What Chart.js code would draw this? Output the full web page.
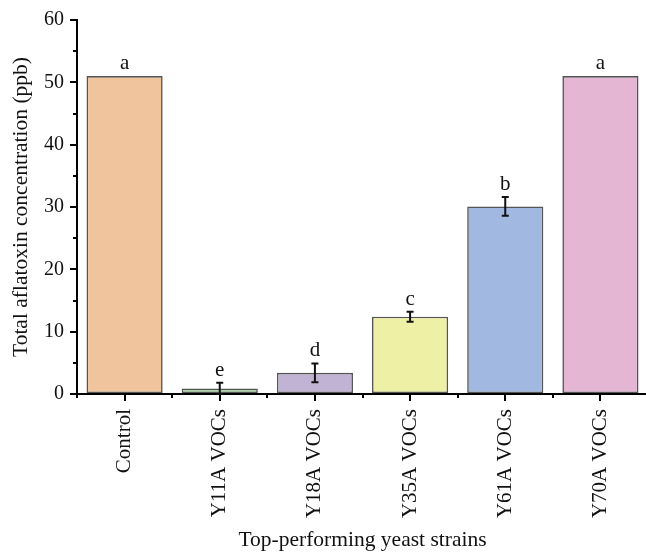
<!DOCTYPE html>
<html>
<head>
<meta charset="utf-8">
<script src="https://cdn.jsdelivr.net/npm/chart.js@4"></script>
<style>
  html, body { margin: 0; padding: 0; background: #fff; overflow: hidden; }
  canvas { display: block; }
</style>
</head>
<body>
<canvas id="chart" width="648" height="554"></canvas>
<script>
// Total aflatoxin produced under VOCs from the top-performing yeast strains
const strains = ['Control', 'Y11A VOCs', 'Y18A VOCs', 'Y35A VOCs', 'Y61A VOCs', 'Y70A VOCs'];
const aflatoxin = [51.0, 0.9, 3.4, 12.4, 30.1, 51.0];
const errors = [0, 0.9, 1.5, 0.8, 1.5, 0];
const groups = ['a', 'e', 'd', 'c', 'b', 'a'];
const yTicks = [0, 10, 20, 30, 40, 50, 60];
const fills = ['#F0C59D', '#A7D5A3', '#C0B3D3', '#EEF1A5', '#A1B9E0', '#E4B6D4'];

const FONT = '"Liberation Serif", "Times New Roman", serif';
const INK = '#111111';

const errorBarsAndLetters = {
  id: 'errorBarsAndLetters',
  afterDatasetsDraw(chart) {
    const ctx = chart.ctx;
    const meta = chart.getDatasetMeta(0);
    const y = chart.scales.y;
    ctx.save();
    ctx.strokeStyle = '#111';
    ctx.lineWidth = 2;
    meta.data.forEach((bar, i) => {
      const v = aflatoxin[i];
      const e = errors[i];
      const cx = bar.x;
      let topPx = y.getPixelForValue(v);
      if (e > 0) {
        const hi = y.getPixelForValue(v + e);
        const lo = y.getPixelForValue(Math.max(0, v - e));
        ctx.beginPath();
        ctx.moveTo(cx, hi); ctx.lineTo(cx, lo);
        ctx.moveTo(cx - 3.5, hi); ctx.lineTo(cx + 3.5, hi);
        ctx.moveTo(cx - 3.5, lo); ctx.lineTo(cx + 3.5, lo);
        ctx.stroke();
        topPx = hi;
      }
      ctx.fillStyle = INK;
      ctx.font = '21px ' + FONT;
      ctx.textAlign = 'center';
      ctx.textBaseline = 'alphabetic';
      ctx.fillText(groups[i], cx, topPx - 7);
    });
    ctx.restore();
  },
  afterDraw(chart) {
    // minor tick marks on both axes
    const ctx = chart.ctx;
    const { x, y } = chart.scales;
    ctx.save();
    ctx.strokeStyle = '#000';
    ctx.lineWidth = 2;
    ctx.beginPath();
    for (let v = 5; v < 60; v += 10) {
      const py = Math.round(y.getPixelForValue(v));
      ctx.moveTo(x.left - 4, py);
      ctx.lineTo(x.left, py);
    }
    for (let i = 0; i <= strains.length; i++) {
      const px = Math.round(x.getPixelForValue(i - 0.5));
      ctx.moveTo(px, y.bottom);
      ctx.lineTo(px, y.bottom + 4);
    }
    ctx.stroke();
    ctx.restore();
  }
};

new Chart(document.getElementById('chart'), {
  type: 'bar',
  data: {
    labels: strains,
    datasets: [{
      data: aflatoxin,
      backgroundColor: fills,
      borderColor: '#555555',
      borderWidth: 1.6,
      borderSkipped: false,
      barPercentage: 0.8,
      categoryPercentage: 1.0
    }]
  },
  options: {
    responsive: false,
    animation: false,
    layout: { padding: { top: 20, right: 0, left: 0, bottom: 0 } },
    plugins: { legend: { display: false }, tooltip: { enabled: false } },
    scales: {
      x: {
        offset: true,
        grid: { display: true, offset: false, drawOnChartArea: false, drawTicks: true, tickLength: 7, color: '#000', lineWidth: 2 },
        border: { display: true, color: '#000', width: 2 },
        ticks: { color: INK, font: { family: FONT, size: 21 }, minRotation: 90, maxRotation: 90, padding: 8 },
        title: { display: true, text: 'Top-performing yeast strains', color: INK, font: { family: FONT, size: 21.5 }, padding: { top: 0, bottom: 0.5 } },
        afterFit(scale) { scale.height = 160; }
      },
      y: {
        min: 0,
        max: 60,
        afterBuildTicks(scale) { scale.ticks = yTicks.map(v => ({ value: v })); },
        grid: { display: true, drawOnChartArea: false, drawTicks: true, tickLength: 7, color: '#000', lineWidth: 2 },
        border: { display: true, color: '#000', width: 2 },
        ticks: { color: INK, font: { family: FONT, size: 20 }, padding: 6 },
        title: { display: true, text: 'Total aflatoxin concentration (ppb)', color: INK, font: { family: FONT, size: 21.5 }, padding: { top: 8, bottom: 0 } },
        afterFit(scale) { scale.width = 77; }
      }
    }
  },
  plugins: [errorBarsAndLetters]
});
</script>
</body>
</html>
